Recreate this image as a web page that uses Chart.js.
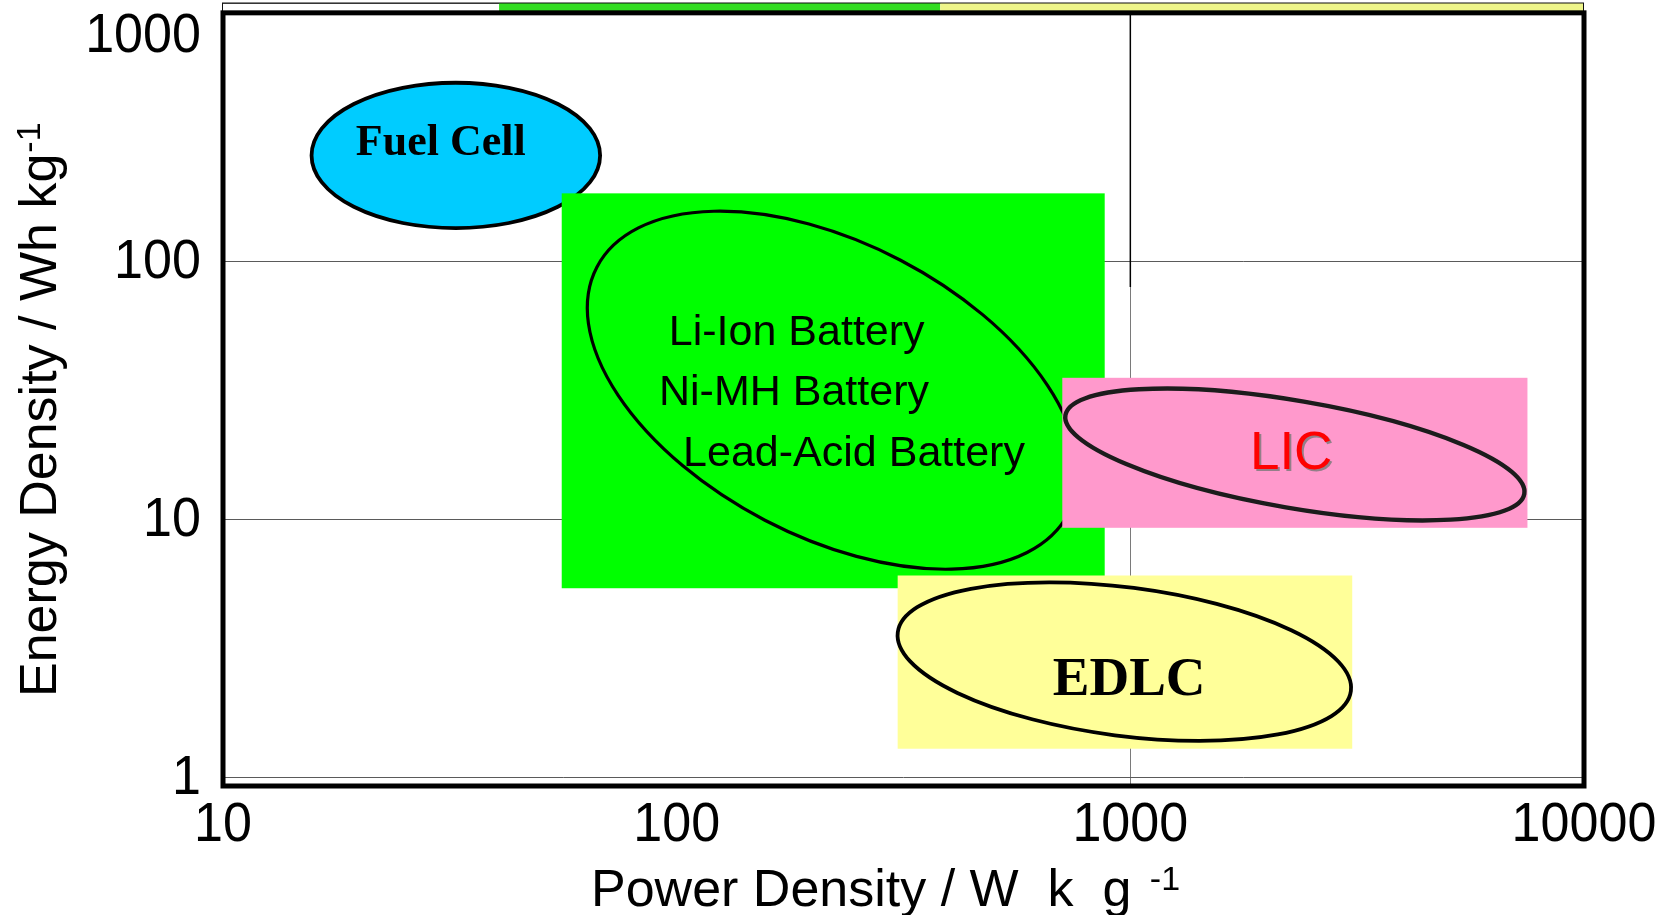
<!DOCTYPE html>
<html>
<head>
<meta charset="utf-8">
<title>Energy density vs power density</title>
<script src="https://cdn.jsdelivr.net/npm/chart.js@4.4.1/dist/chart.umd.min.js"></script>
<style>
  html, body { margin: 0; padding: 0; background: #ffffff; }
  #wrap { width: 1665px; height: 915px; position: relative; }
</style>
</head>
<body>
<div id="wrap"><canvas id="ragone" width="1665" height="915"></canvas></div>
<script>
// ---- axis ticks (log decades) ----
const xTickValues = [10, 100, 1000, 10000];      // W/kg
const yTickValues = [1, 10, 100, 1000];          // Wh/kg

// ---- rectangular operating windows (W/kg, Wh/kg) ----
const boxNames      = ['Batteries', 'LIC', 'EDLC'];
const boxPowerMin   = [55.8, 708, 307];
const boxPowerMax   = [878, 7505, 3084];
const boxEnergyMin  = [5.40, 9.26, 1.29];
const boxEnergyMax  = [183, 35.3, 6.05];

// ---- elliptical regions: centre, end of major axis, end of minor axis ----
const ellipseNames        = ['Fuel Cell', 'Batteries', 'LIC', 'EDLC'];
const ellipseCenterPower  = [32.6, 220.8, 2305, 970];
const ellipseCenterEnergy = [256.7, 31.6, 17.81, 2.806];
const ellipseMajorPower   = [67.8, 731, 7386, 3063];
const ellipseMajorEnergy  = [256.7, 10.54, 12.54, 2.159];
const ellipseMinorPower   = [32.6, 311.5, 2414, 1016];
const ellipseMinorEnergy  = [491, 100.8, 28.54, 5.416];

// ---- region labels, anchored at their centres ----
const labelTexts  = ['Fuel Cell', 'Li-Ion Battery', 'Ni-MH Battery', 'Lead-Acid Battery', 'LIC', 'EDLC'];
const labelPower  = [30.2, 183.9, 181.4, 246.0, 2262, 994];
const labelEnergy = [284.7, 52.7, 30.66, 17.9, 17.9, 2.36];

// ---- band above the frame ----
const bandPowerEdges = [10, 40.6, 381, 10000];
const bandEnergy     = [916, 1000];

// ---- marker line at 1000 W/kg ----
const markerPower  = [1000, 1000];
const markerEnergy = [916, 79.4];

// ---- styles ----
const boxColors      = ['#00ff00', '#ff99cc', '#ffff99'];
const ellipseFills   = ['#00ccff', null, null, null];
const ellipseStrokes = ['#000000', '#000000', '#1c1c1c', '#000000'];
const ellipseWidths  = [3.8, 3.2, 4.4, 3.8];
const labelFonts = [
  'bold 44px "Liberation Serif", "Times New Roman", serif',
  '43px "Liberation Sans", Arial, sans-serif',
  '43px "Liberation Sans", Arial, sans-serif',
  '43px "Liberation Sans", Arial, sans-serif',
  '53px "Liberation Sans", Arial, sans-serif',
  'bold 55px "Liberation Serif", "Times New Roman", serif'
];
const labelColors = ['#000', '#000', '#000', '#000', '#ff0000', '#000'];
const SANS = '"Liberation Sans", Arial, sans-serif';

// painting order of the regions (later items cover earlier ones)
const paintOrder = [['ellipse', 0], ['box', 0], ['ellipse', 1], ['box', 2], ['ellipse', 3], ['box', 1], ['ellipse', 2]];

// narrow numerals for the tick labels
function drawNarrow(ctx, text, x, y, align) {
  const sx = 0.93;
  ctx.save();
  ctx.translate(x, y);
  ctx.scale(sx, 1);
  ctx.textAlign = align;
  ctx.fillText(text, 0, 0);
  ctx.restore();
}

const regionsPlugin = {
  id: 'regions',
  beforeDatasetsDraw(chart) {
    const { ctx, scales: { x, y } } = chart;
    const px = v => x.getPixelForValue(v);
    const py = v => y.getPixelForValue(v);

    const drawBox = i => {
      const x0 = px(boxPowerMin[i]), x1 = px(boxPowerMax[i]);
      const y0 = py(boxEnergyMax[i]), y1 = py(boxEnergyMin[i]);
      ctx.fillStyle = boxColors[i];
      ctx.fillRect(x0, y0, x1 - x0, y1 - y0);
    };
    const drawEllipse = i => {
      const cx = px(ellipseCenterPower[i]), cy = py(ellipseCenterEnergy[i]);
      const mx = px(ellipseMajorPower[i]), my = py(ellipseMajorEnergy[i]);
      const nx = px(ellipseMinorPower[i]), ny = py(ellipseMinorEnergy[i]);
      const a = Math.hypot(mx - cx, my - cy);
      const b = Math.hypot(nx - cx, ny - cy);
      const rot = Math.atan2(my - cy, mx - cx);
      ctx.beginPath();
      ctx.ellipse(cx, cy, a, b, rot, 0, Math.PI * 2);
      if (ellipseFills[i]) { ctx.fillStyle = ellipseFills[i]; ctx.fill(); }
      ctx.lineWidth = ellipseWidths[i];
      ctx.strokeStyle = ellipseStrokes[i];
      ctx.stroke();
    };

    ctx.save();
    paintOrder.forEach(([kind, i]) => kind === 'box' ? drawBox(i) : drawEllipse(i));

    // region labels
    ctx.textAlign = 'center';
    ctx.textBaseline = 'middle';
    labelTexts.forEach((t, i) => {
      ctx.save();
      ctx.font = labelFonts[i];
      ctx.fillStyle = labelColors[i];
      if (t === 'LIC') {
        ctx.shadowColor = 'rgba(120,120,120,0.8)';
        ctx.shadowOffsetX = 2; ctx.shadowOffsetY = 2; ctx.shadowBlur = 0;
      }
      ctx.fillText(t, px(labelPower[i]), py(labelEnergy[i]));
      ctx.restore();
    });
    ctx.restore();
  },
  afterDraw(chart) {
    const { ctx, chartArea: area, scales: { x, y } } = chart;
    const px = v => x.getPixelForValue(v);
    const py = v => y.getPixelForValue(v);
    const frameTop = py(bandEnergy[0]);
    const bandTop = py(bandEnergy[1]);
    ctx.save();

    // band above the frame
    ctx.fillStyle = '#33dd22';
    ctx.fillRect(px(bandPowerEdges[1]), bandTop, px(bandPowerEdges[2]) - px(bandPowerEdges[1]), frameTop - bandTop);
    ctx.fillStyle = '#eef58a';
    ctx.fillRect(px(bandPowerEdges[2]), bandTop, px(bandPowerEdges[3]) - px(bandPowerEdges[2]), frameTop - bandTop);
    ctx.lineWidth = 1;
    ctx.strokeStyle = '#111';
    ctx.strokeRect(px(bandPowerEdges[0]) - 0.5, bandTop, px(bandPowerEdges[3]) - px(bandPowerEdges[0]), frameTop - bandTop);

    // heavy frame
    ctx.lineWidth = 5;
    ctx.strokeStyle = '#000';
    ctx.lineJoin = 'miter';
    ctx.strokeRect(area.left, frameTop, area.right - area.left, area.bottom - frameTop);

    // x tick labels
    ctx.fillStyle = '#000';
    ctx.font = '56px ' + SANS;
    ctx.textBaseline = 'middle';
    xTickValues.forEach(v => drawNarrow(ctx, String(v), px(v), area.bottom + 40, 'center'));

    // y tick labels (top one kept inside the page)
    yTickValues.forEach(v => {
      const yy = Math.max(py(v), frameTop + 23);
      drawNarrow(ctx, String(v), area.left - 22, yy + 1, 'right');
    });

    // x title with superscript
    ctx.textAlign = 'left';
    ctx.textBaseline = 'alphabetic';
    const xt = 'Power Density / W  k  g ';
    ctx.font = '52px ' + SANS;
    const xw = ctx.measureText(xt).width;
    const xStart = 591;
    ctx.fillText(xt, xStart, 906);
    ctx.font = '34px ' + SANS;
    ctx.fillText('-1', xStart + xw + 4, 890);

    // y title with superscript
    ctx.save();
    ctx.translate(56, 697);
    ctx.rotate(-Math.PI / 2);
    const yt = 'Energy Density / Wh kg';
    ctx.font = '52px ' + SANS;
    const yw = ctx.measureText(yt).width;
    ctx.fillText(yt, 0, 0);
    ctx.font = '34px ' + SANS;
    ctx.fillText('-1', yw + 1, -16);
    ctx.restore();

    ctx.restore();
  }
};

new Chart(document.getElementById('ragone'), {
  type: 'scatter',
  data: {
    datasets: [{
      label: 'marker',
      data: markerPower.map((p, i) => ({ x: p, y: markerEnergy[i] })),
      showLine: true,
      borderColor: '#000',
      borderWidth: 1.5,
      pointRadius: 0
    }]
  },
  options: {
    responsive: false,
    animation: false,
    devicePixelRatio: 1,
    layout: { padding: { left: 223, right: 81, top: 3, bottom: 129 } },
    plugins: { legend: { display: false }, tooltip: { enabled: false } },
    scales: {
      x: {
        type: 'logarithmic',
        min: 10, max: 10000,
        afterBuildTicks: s => { s.ticks = xTickValues.map(v => ({ value: v })); },
        ticks: { display: false },
        grid: {
          drawTicks: false,
          lineWidth: 1,
          color: c => (c.tick && c.tick.value === 1000) ? '#7a7a7a' : 'rgba(0,0,0,0)'
        },
        border: { display: false }
      },
      y: {
        type: 'logarithmic',
        min: 0.925, max: 1000,
        afterBuildTicks: s => { s.ticks = yTickValues.map(v => ({ value: v })); },
        ticks: { display: false },
        grid: { drawTicks: false, lineWidth: 1, color: '#5a5a5a' },
        border: { display: false }
      }
    }
  },
  plugins: [regionsPlugin]
});
</script>
</body>
</html>
